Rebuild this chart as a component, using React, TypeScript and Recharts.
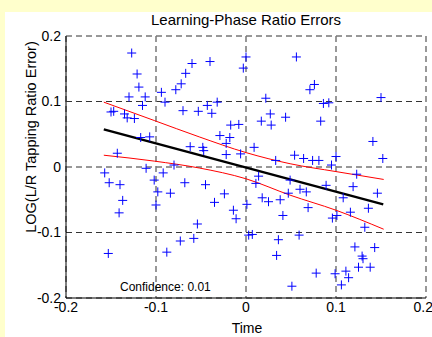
import { ComposedChart, Scatter, Line, XAxis, YAxis, CartesianGrid } from "recharts"

// tapping trials: time vs log ratio error
const trialTime = [
  -0.127, -0.121, -0.119, -0.13, -0.112, -0.115, -0.147, -0.15, -0.135, -0.132,
  -0.124, -0.117, -0.107, -0.143, -0.094, -0.09, -0.078, -0.072, -0.067, -0.06,
  -0.04, -0.07, -0.053, -0.043, -0.038, -0.032, -0.029, -0.017, -0.018, -0.022,
  -0.062, -0.048, -0.047, -0.022, -0.111, -0.08, 0.0, -0.003, 0.056, 0.076,
  0.071, 0.022, 0.086, 0.092, 0.15, 0.027, 0.017, 0.028, 0.044, 0.083,
  -0.008, 0.141, 0.009, -0.006, 0.033, 0.054, 0.064, 0.074, 0.081, 0.1,
  0.152, 0.095, 0.123, 0.014, 0.011, 0.049, 0.089, 0.119, 0.06, 0.067,
  0.146, 0.047, 0.018, 0.025, 0.038, 0.108, 0.001, -0.014, -0.011, 0.069,
  0.136, 0.116, 0.041, 0.096, 0.101, 0.132, 0.003, 0.007, 0.059, 0.036,
  0.121, 0.143, 0.034, 0.129, 0.13, 0.125, 0.138, 0.078, 0.099, 0.111,
  0.114, 0.106, 0.051, -0.157, -0.152, -0.14, -0.137, -0.141, -0.153, -0.102,
  -0.092, -0.098, -0.084, -0.1, -0.068, -0.045, -0.024, -0.035, -0.054, -0.058,
  -0.073, -0.088,
]
const ratioError = [
  0.174, 0.142, 0.122, 0.107, 0.107, 0.094, 0.085, 0.084, 0.081, 0.075,
  0.074, 0.045, 0.046, 0.021, 0.114, 0.099, 0.118, 0.127, 0.143, 0.158,
  0.161, 0.086, 0.085, 0.094, 0.082, 0.099, 0.048, 0.064, 0.045, 0.036,
  0.031, 0.03, 0.025, 0.019, -0.002, 0.003, 0.168, 0.151, 0.168, 0.126,
  0.118, 0.105, 0.097, 0.098, 0.106, 0.081, 0.07, 0.064, 0.076, 0.07,
  0.065, 0.039, 0.03, 0.02, 0.01, 0.018, 0.013, 0.01, 0.01, 0.016,
  0.013, 0.003, -0.011, -0.014, -0.025, -0.02, -0.028, -0.03, -0.034, -0.038,
  -0.04, -0.04, -0.047, -0.053, -0.05, -0.047, -0.057, -0.066, -0.079, -0.062,
  -0.063, -0.069, -0.074, -0.078, -0.074, -0.092, -0.104, -0.103, -0.104, -0.111,
  -0.122, -0.123, -0.135, -0.136, -0.14, -0.153, -0.153, -0.162, -0.163, -0.159,
  -0.169, -0.18, -0.182, -0.009, -0.024, -0.027, -0.051, -0.07, -0.132, -0.02,
  -0.009, -0.038, -0.04, -0.058, -0.024, -0.027, -0.041, -0.054, -0.087, -0.109,
  -0.113, -0.13,
]

// regression line and confidence band (read at a few x positions)
const fitTime = [-0.158, 0.1525]
const fitError = [0.0575, -0.057]
const bandTime = [-0.158, -0.102, -0.052, 0, 0.049, 0.1, 0.153]
const bandUpper = [0.099, 0.071, 0.046, 0.022, 0.005, -0.007, -0.019]
const bandLower = [0.018, 0.009, -0.0015, -0.018, -0.043, -0.066, -0.095]

const ticks = [-0.2, -0.1, 0, 0.1, 0.2]

const points = trialTime.map((x, i) => ({ x, y: ratioError[i] }))
const fit = fitTime.map((x, i) => ({ x, y: fitError[i] }))
const upper = bandTime.map((x, i) => ({ x, y: bandUpper[i] }))
const lower = bandTime.map((x, i) => ({ x, y: bandLower[i] }))

const font = "'Liberation Sans', Arial, Helvetica, sans-serif"

const Plus = (props: any) => {
  const { cx, cy } = props
  const r = 4.5
  return (
    <path
      d={`M${cx - r},${cy}H${cx + r}M${cx},${cy - r}V${cy + r}`}
      stroke="#0000ff"
      strokeWidth={1}
      fill="none"
    />
  )
}

export default function App() {
  return (
    <div
      style={{
        position: "relative",
        width: 432,
        height: 337,
        background: "#ffffcc",
        overflow: "hidden",
        fontFamily: font,
      }}
    >
      <style>{`body{margin:0}`}</style>
      <div
        style={{
          position: "absolute",
          left: 5,
          top: 12,
          right: -10,
          bottom: -10,
          background: "#fff",
        }}
      />
      <div style={{ position: "absolute", left: 0, top: 0 }}>
        <ComposedChart
          width={432}
          height={337}
          margin={{ top: 36, right: 6, left: 0, bottom: 0 }}
        >
          <CartesianGrid
            vertical={false}
            stroke="#333"
            strokeDasharray="6 4"
          />
          <CartesianGrid
            horizontal={false}
            stroke="#777"
            strokeWidth={1.5}
            strokeDasharray="6 4"
          />
          <XAxis
            type="number"
            dataKey="x"
            domain={[-0.2, 0.2]}
            ticks={ticks}
            height={39}
            tickLine={false}
            tickSize={0}
            tickMargin={4}
            axisLine={{ stroke: "#000" }}
            tick={{ fill: "#000", fontSize: 14, fontFamily: font }}
          />
          <YAxis
            type="number"
            dataKey="y"
            domain={[-0.2, 0.2]}
            ticks={ticks}
            width={66}
            tickLine={false}
            tickSize={0}
            tickMargin={5}
            axisLine={{ stroke: "#000" }}
            tick={{ fill: "#000", fontSize: 14, fontFamily: font }}
          />
          <Scatter
            data={points}
            dataKey="y"
            shape={Plus}
            isAnimationActive={false}
          />
          <Line
            data={upper}
            dataKey="y"
            type="monotone"
            stroke="#ff0000"
            strokeWidth={1}
            dot={false}
            isAnimationActive={false}
          />
          <Line
            data={lower}
            dataKey="y"
            type="monotone"
            stroke="#ff0000"
            strokeWidth={1}
            dot={false}
            isAnimationActive={false}
          />
          <Line
            data={fit}
            dataKey="y"
            type="linear"
            stroke="#000"
            strokeWidth={2.5}
            dot={false}
            isAnimationActive={false}
          />
        </ComposedChart>
      </div>
      <svg
        width={432}
        height={337}
        style={{ position: "absolute", left: 0, top: 0, pointerEvents: "none" }}
        fontFamily={font}
      >
        <text x={246} y={25} fontSize={15} textAnchor="middle" fill="#000">
          Learning-Phase Ratio Errors
        </text>
        <text
          x={0}
          y={0}
          fontSize={14.5}
          textAnchor="middle"
          fill="#000"
          transform="translate(36,137) rotate(-90)"
        >
          LOG(L/R Tapping Ratio Error)
        </text>
        <text x={247} y={333} fontSize={14} textAnchor="middle" fill="#000">
          Time
        </text>
        <text x={120} y={291} fontSize={12} fill="#000">
          Confidence: 0.01
        </text>
      </svg>
    </div>
  )
}
